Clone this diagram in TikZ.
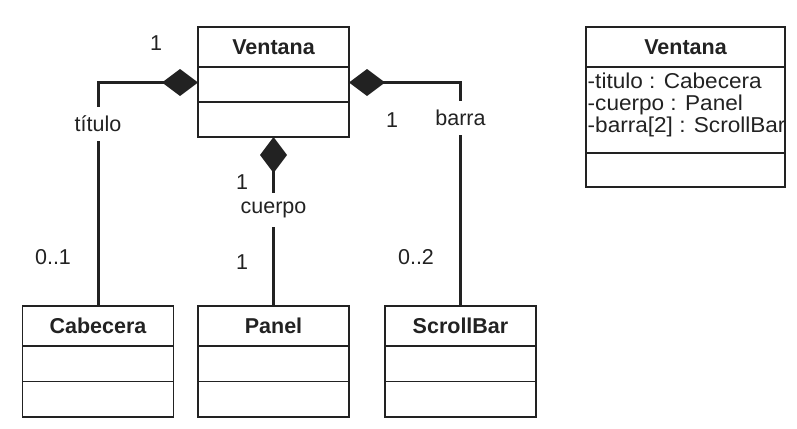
\documentclass[tikz,border=0pt]{standalone}
\usepackage{fontspec}
\setmainfont{Liberation Sans}
\newfontfamily\attrfont{Liberation Sans}[FakeStretch=1.05]
\usetikzlibrary{arrows.meta}
\definecolor{ink}{HTML}{222222}
\begin{document}
\begin{tikzpicture}[x=1pt,y=-1pt,
  cell/.style={draw=ink, line width=1.3pt, minimum width=151pt, inner sep=0pt, outer sep=0pt},
  titlecell/.style={cell, minimum height=40pt, text=ink, font=\fontsize{21.5}{24}\selectfont\bfseries},
  rowcell/.style={cell, minimum height=35.5pt, anchor=north},
  attr/.style={inner sep=0pt, anchor=base west, text=ink, font=\attrfont\fontsize{21.5}{24}\selectfont},
  lab/.style={inner sep=0pt, text=ink, font=\fontsize{21.5}{24}\selectfont},
  gaplab/.style={lab, fill=white, inner ysep=9pt, inner xsep=1pt},
  conn/.style={draw=ink, line width=3pt, -{Diamond[length=36pt,width=27pt]}}
]
\useasboundingbox (0,0) rectangle (797,428);

% main Ventana
\node[titlecell] (vT) at (273.5,47) {Ventana};
\node[rowcell, minimum height=35pt] (vA) at (vT.south) {};
\node[rowcell, minimum height=35pt] (vO) at (vA.south) {};

% Cabecera
\node[titlecell] (cT) at (98,326) {Cabecera};
\node[rowcell] (cA) at (cT.south) {};
\node[rowcell] (cO) at (cA.south) {};

% Panel
\node[titlecell] (pT) at (273.5,326) {Panel};
\node[rowcell] (pA) at (pT.south) {};
\node[rowcell] (pO) at (pA.south) {};

% ScrollBar
\node[titlecell] (sT) at (460.5,326) {ScrollBar};
\node[rowcell] (sA) at (sT.south) {};
\node[rowcell] (sO) at (sA.south) {};

% right Ventana
\node[titlecell, minimum width=199pt] (rT) at (685.5,47) {Ventana};
\node[rowcell, minimum width=199pt, minimum height=86pt] (rA) at (rT.south) {};
\node[rowcell, minimum width=199pt, minimum height=34pt] (rO) at (rA.south) {};
\node[attr] (a1) at (587.5,88.5) {-titulo : Cabecera};
\node[attr] (a2) at (587.5,110.5) {-cuerpo : Panel};
\node[attr] (a3) at (587.5,132.5) {-barra[2] : ScrollBar};

% connectors
\draw[conn] (cT.north) |- ([yshift=2pt]vA.west);
\draw[conn] (sT.north) |- ([yshift=2pt]vA.east);
\draw[conn] (pT.north) -- (vO.south);

% labels
\node[lab] (m1) at (156,43) {1};
\node[gaplab] (rtit) at (98,124) {título};
\node[lab] (m2) at (392,120) {1};
\node[gaplab] (rbar) at (460.5,118) {barra};
\node[lab] (m3) at (242,182) {1};
\node[gaplab] (rcue) at (273.5,210) {cuerpo};
\node[lab] (m4) at (242,262) {1};
\node[lab] (m5) at (53,257) {0..1};
\node[lab] (m6) at (416,257) {0..2};
\end{tikzpicture}
\end{document}
